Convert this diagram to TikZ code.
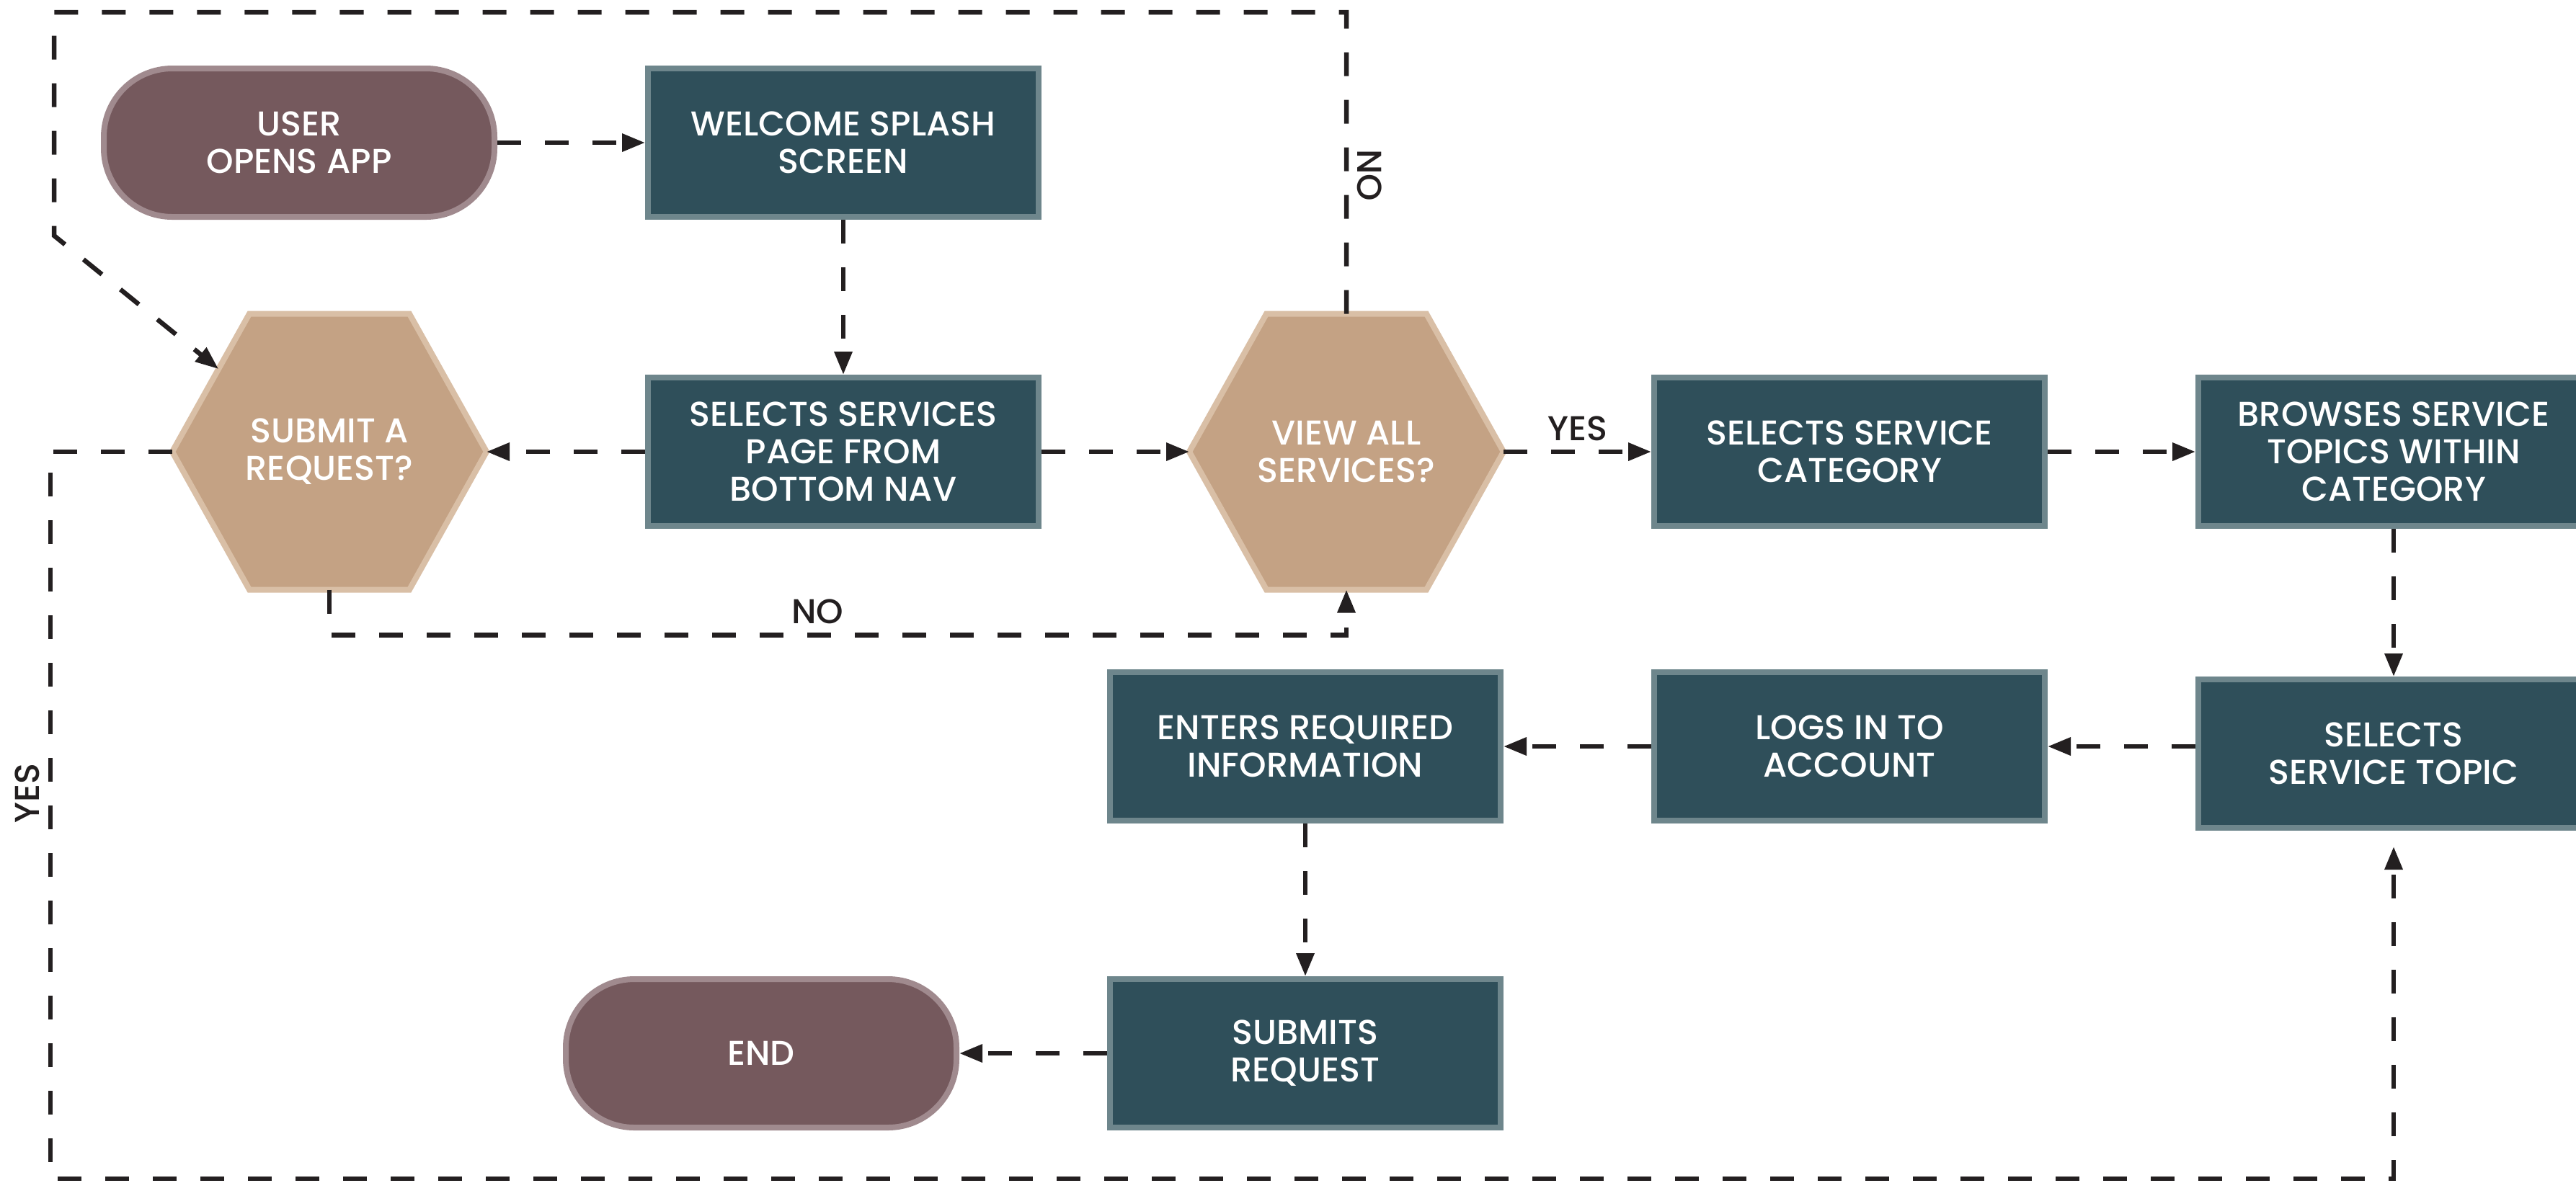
\documentclass[tikz,border=0pt]{standalone}
\usepackage{fontspec}
\setmainfont{Poppins Medium}
\usetikzlibrary{positioning,arrows.meta,calc,backgrounds}
\definecolor{tealbox}{HTML}{2F4F5A}
\definecolor{tealedge}{HTML}{6E868C}
\definecolor{mauvebox}{HTML}{75595D}
\definecolor{mauveedge}{HTML}{A08A8E}
\definecolor{tanbox}{HTML}{C4A284}
\definecolor{tanedge}{HTML}{D9BFA6}
\definecolor{inkline}{HTML}{231F20}
\tikzset{
    stepbox/.style={rectangle, draw=tealedge, fill=tealbox, line width=0.08cm, minimum width=5.42cm, minimum height=2.06cm, text=white, align=center, font=\fontsize{13.6}{14.8}\selectfont},
    termbox/.style={stepbox, draw=mauveedge, fill=mauvebox, rounded corners=0.95cm},
    hexbox/.style={rectangle, minimum width=4.36cm, minimum height=3.83cm, outer sep=0pt, text=white, align=center, font=\fontsize{13.6}{14.8}\selectfont},
    hexline/.style={draw=tanedge, fill=tanbox, line width=0.08cm},
    line/.style={draw=inkline, line width=0.065cm, dash pattern=on 0.33cm off 0.33cm, ->},
    tag/.style={text=inkline, font=\fontsize{13.6}{14.8}\selectfont, inner sep=0.12cm}
}

\begin{document}
\begin{tikzpicture}[node distance=2.05cm, >={Triangle[length=0.32cm, width=0.24cm]}]
        \useasboundingbox (0,0) rectangle (35.74,-16.41);
        % top row
        \node[termbox] (user) at (4.15,-1.98) {USER\\OPENS APP};
        \node[stepbox, right=of user] (welcome) {WELCOME SPLASH\\SCREEN};
        % middle row
        \node[stepbox, below=2.15cm of welcome] (services) {SELECTS SERVICES\\PAGE FROM\\BOTTOM NAV};
        \node[hexbox, left=2.2cm of services] (submit) {SUBMIT A\\REQUEST?};
        \node[hexbox, right=of services] (viewall) {VIEW ALL\\SERVICES?};
        \node[stepbox, right=of viewall] (category) {SELECTS SERVICE\\CATEGORY};
        \node[stepbox, right=of category] (browse) {BROWSES SERVICE\\TOPICS WITHIN\\CATEGORY};
        % lower rows
        \node[stepbox, below=of browse] (topic) {SELECTS\\SERVICE TOPIC};
        \node[stepbox, left=of topic, yshift=0.1cm] (logs) {LOGS IN TO\\ACCOUNT};
        \node[stepbox, left=of logs] (enters) {ENTERS REQUIRED\\INFORMATION};
        \node[stepbox, below=2.12cm of enters] (submits) {SUBMITS\\REQUEST};
        \node[termbox, left=of submits] (end) {END};

        \begin{scope}[on background layer]
            \foreach \hx in {submit,viewall}
                \draw[hexline] (\hx.west) -- ([xshift=1.07cm]\hx.north west) -- ([xshift=-1.07cm]\hx.north east) -- (\hx.east) -- ([xshift=-1.07cm]\hx.south east) -- ([xshift=1.07cm]\hx.south west) -- cycle;
        \end{scope}

        \coordinate (topleft) at (0.75,-0.17);
        \coordinate (bend) at (0.75,-3.27);
        \coordinate (bottomleft) at (0.70,-16.36);

        \draw[line] (user) -- (welcome);
        \draw[line] (welcome) -- (services);
        \draw[line] (services) -- (submit);
        \draw[line] (services) -- (viewall);
        \draw[line] (viewall) -- node[tag, above] {YES} (category);
        \draw[line] (category) -- (browse);
        \draw[line] (browse) -- (topic);
        \draw[line] (topic.west |- logs) -- (logs);
        \draw[line] (logs) -- (enters);
        \draw[line] (enters) -- (submits);
        \draw[line] (submits) -- (end);

        % loops
        \draw[line] (viewall.north) |- node[tag, pos=0.23, rotate=-90, above] {NO} (topleft) -- (bend) -- ($(submit.west)!0.6!([xshift=1.07cm]submit.north west)$);
        \draw[line] (submit.south) -- ++(0,-0.63) -| node[tag, pos=0.24, above] {NO} (viewall.south);
        \draw[line, shorten >=0.22cm] (submit.west) -| node[tag, pos=0.735, rotate=90, above] {YES} (bottomleft) -| (topic.south);
    \end{tikzpicture}
\end{document}
